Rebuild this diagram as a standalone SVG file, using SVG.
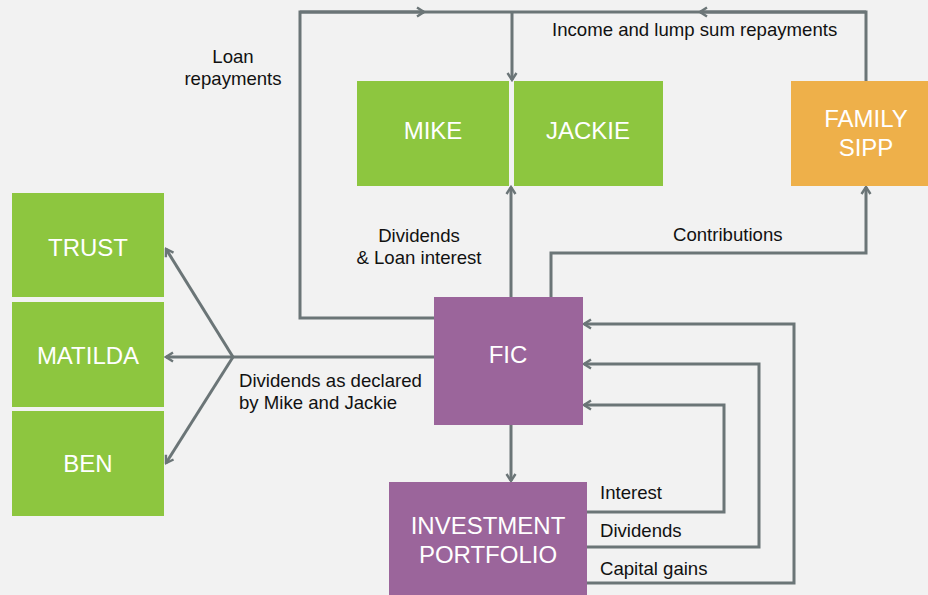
<svg xmlns="http://www.w3.org/2000/svg" width="928" height="595" viewBox="0 0 928 595">
<defs>
<marker id="ah" viewBox="0 0 12 12" refX="10" refY="6" markerWidth="12" markerHeight="12" markerUnits="userSpaceOnUse" orient="auto">
<path d="M3,1.5 L10,6 L3,10.5" fill="none" stroke="#6b7577" stroke-width="2.4"/>
</marker>
<style>
.bg{fill:#f2f2f2}
.g{fill:#8dc63f}
.p{fill:#9b659b}
.o{fill:#eeb04a}
.nt{font-family:"Liberation Sans",Arial,sans-serif;font-size:24px;fill:#ffffff;text-anchor:middle}
.lb{font-family:"Liberation Sans",Arial,sans-serif;font-size:18.6px;fill:#111111}
.c{fill:none;stroke:#6b7577;stroke-width:3}
.a{marker-end:url(#ah)}
</style>
</defs>
<rect class="bg" x="0" y="0" width="928" height="595"/>
<g id="connectors">
<path class="c" d="M434,318 H300 V12 H866 V81"/>
<path class="c a" d="M300,12 H424"/>
<path class="c a" d="M866,12 H700"/>
<path class="c a" d="M512,12 V80"/>
<path class="c a" d="M511,297 V187"/>
<path class="c a" d="M551,297 V253 H866 V187"/>
<path class="c" d="M434,357 H233"/>
<path class="c a" d="M233,357 L166,249"/>
<path class="c a" d="M233,357 H166"/>
<path class="c a" d="M233,357 L166,463"/>
<path class="c a" d="M511,425 V481"/>
<path class="c a" d="M587,512 H724 V405 H584"/>
<path class="c a" d="M587,547 H759 V364 H584"/>
<path class="c a" d="M587,583 H794 V324 H584"/>
</g>
<g id="mike"><rect class="g" x="357" y="81" width="152" height="105"/><text class="nt" x="433" y="139">MIKE</text></g>
<g id="jackie"><rect class="g" x="514" y="81" width="149" height="105"/><text class="nt" x="588" y="139">JACKIE</text></g>
<g id="sipp"><rect class="o" x="791" y="81" width="137" height="105"/><text class="nt" x="866" y="127">FAMILY</text><text class="nt" x="866" y="156">SIPP</text></g>
<g id="trust"><rect class="g" x="12" y="193" width="152" height="104"/><text class="nt" x="88" y="256">TRUST</text></g>
<g id="matilda"><rect class="g" x="12" y="302" width="152" height="105"/><text class="nt" x="88" y="364">MATILDA</text></g>
<g id="ben"><rect class="g" x="12" y="411" width="152" height="105"/><text class="nt" x="88" y="472">BEN</text></g>
<g id="fic"><rect class="p" x="434" y="297" width="149" height="128"/><text class="nt" x="508" y="363">FIC</text></g>
<g id="portfolio"><rect class="p" x="389" y="482" width="198" height="113"/><text class="nt" x="488" y="534">INVESTMENT</text><text class="nt" x="488" y="563">PORTFOLIO</text></g>
<g id="labels">
<text class="lb" x="233" y="63" text-anchor="middle">Loan</text>
<text class="lb" x="233" y="85" text-anchor="middle">repayments</text>
<text class="lb" x="552" y="36">Income and lump sum repayments</text>
<text class="lb" x="419" y="242" text-anchor="middle">Dividends</text>
<text class="lb" x="419" y="264" text-anchor="middle">&amp; Loan interest</text>
<text class="lb" x="673" y="241">Contributions</text>
<text class="lb" x="239" y="387">Dividends as declared</text>
<text class="lb" x="239" y="409">by Mike and Jackie</text>
<text class="lb" x="600" y="499">Interest</text>
<text class="lb" x="600" y="537">Dividends</text>
<text class="lb" x="600" y="575">Capital gains</text>
</g>
</svg>
